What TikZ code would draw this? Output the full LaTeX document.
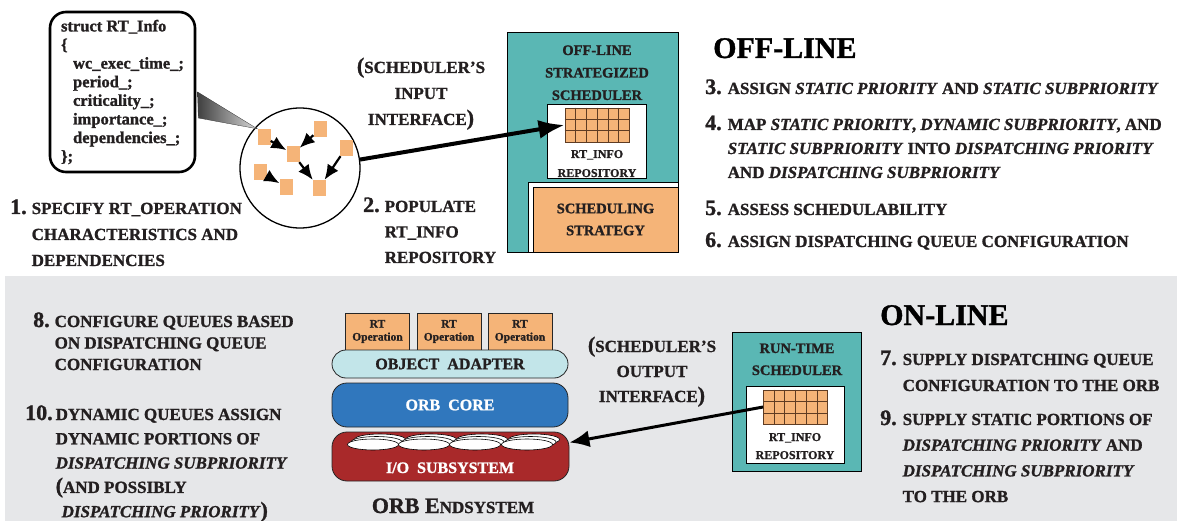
\documentclass[tikz,border=0pt]{standalone}
\usepackage{fontspec}
\setmainfont{Liberation Serif}[BoldFont={Liberation Serif Bold}, BoldItalicFont={Liberation Serif Bold Italic},
  BoldFeatures={FakeBold=1.2}, BoldItalicFeatures={FakeBold=1.2}]
\usepackage{tikz}
\usetikzlibrary{positioning,calc,arrows.meta,shapes}

\definecolor{tealbox}{RGB}{90,183,180}
\definecolor{opfill}{RGB}{245,180,120}
\definecolor{bandgray}{RGB}{230,231,233}
\definecolor{adaptfill}{RGB}{194,229,233}
\definecolor{corefill}{RGB}{48,119,189}
\definecolor{iofill}{RGB}{169,41,42}
\definecolor{gridbrown}{RGB}{95,60,35}
\definecolor{inkgray}{RGB}{35,31,32}

\newcommand\numf{\fontsize{22}{26}\selectfont}
\newcommand\txtrows[2]{\begin{tabular}[t]{@{}#1@{}}#2\end{tabular}}

\tikzset{
  stepitem/.style={anchor=base west, inner sep=0pt, text=inkgray, font=\bfseries\fontsize{17}{#1}\selectfont},
  stepitem/.default=26,
  caplabel/.style={anchor=base, inner sep=0pt, text=inkgray, font=\bfseries\fontsize{17}{#1}\selectfont},
  caplabel/.default=26,
  boxlabel/.style={anchor=base, inner sep=0pt, text=inkgray, font=\bfseries\fontsize{14.5}{#1}\selectfont},
  boxlabel/.default=22,
  repolabel/.style={anchor=base, inner sep=0pt, text=inkgray, font=\bfseries\fontsize{12}{#1}\selectfont},
  title/.style={anchor=base west, inner sep=0pt, font=\bfseries\fontsize{30}{36}\selectfont},
  sq/.style={fill=opfill, minimum width=13pt, minimum height=16pt, inner sep=0pt},
  dep/.style={line width=2.2pt, -{Latex[length=15pt,width=13pt]}},
  gridbox/.style={draw=gridbrown, fill=opfill, line width=0.8pt, minimum width=64pt, minimum height=34pt, inner sep=0pt},
  opbox/.style={draw=black!85, fill=opfill, line width=0.8pt, minimum width=64pt, minimum height=37pt, inner sep=0pt,
    align=center, text=inkgray, font=\bfseries\fontsize{11.5}{13}\selectfont},
  layer/.style={draw=black!85, line width=0.8pt, rounded corners=14pt, minimum width=236pt, inner sep=0pt,
    font=\bfseries\fontsize{16}{19}\selectfont},
  disk/.style={draw=black, fill=white, line width=0.6pt},
  bigarrow/.style={line width=4pt, -{Latex[length=26pt,width=19pt]}}
}

\begin{document}
\begin{tikzpicture}[x=1pt, y=-1pt]
\useasboundingbox (0,0) rectangle (1177,521);
% on-line band
\fill[bandgray] (5,276) rectangle (1177,521);

% step 1: operations and their dependencies
\node[draw, circle, line width=1.3pt, minimum size=120pt, inner sep=0pt] (pool) at (300,168) {};
\foreach \n/\x/\y in {s1/264/137, s2/293/154, s3/320/129, s4/346/148, s5/260/172, s6/286/187, s7/319/188}
  \node[sq] (\n) at (\x,\y) {};
\foreach \a/\b in {s1/s2, s3/s2, s2/s7, s4/s7, s5/s6}
  \draw[dep] (\a) -- (\b);

\node[draw, fill=white, line width=2.6pt, rounded corners=16pt, minimum width=145pt, minimum height=160pt,
  align=left, text=inkgray, font=\bfseries\fontsize{16.5}{18.6}\selectfont] (info) at (122.5,92)
  {struct RT\_Info\\\{\\\hspace*{12pt}wc\_exec\_time\_;\\\hspace*{12pt}period\_;\\\hspace*{12pt}criticality\_;\\
   \hspace*{12pt}importance\_;\\\hspace*{12pt}dependencies\_;\\\};};
\shade[left color=black!75, right color=black!15, draw=black!80, line width=0.3pt]
  ($(info.east)+(1.3,0)$) -- (s1.north west) -- ($(info.east)+(2,26)$) -- cycle;

\node[stepitem] (step1) at (10,214) {\txtrows{r@{\hspace{5pt}}l}{{\numf 1.} & SPECIFY RT\_OPERATION\\ & CHARACTERISTICS AND\\ & DEPENDENCIES}};
\node[stepitem=25.5] (step2) at (363,212) {\txtrows{r@{\hspace{5pt}}l}{{\numf 2.} & POPULATE\\ & RT\_INFO\\ & REPOSITORY}};
\node[caplabel] (inlabel) at (421,73) {\txtrows{c}{{\numf(}SCHEDULER'S\\INPUT\\INTERFACE{\numf)}}};

% off-line strategized scheduler
\node[draw, fill=tealbox, line width=0.6pt, minimum width=171pt, minimum height=220pt, inner sep=0pt] (offsched) at (592.5,142) {};
\fill[white, draw=black, line width=0.6pt] (528,182) rectangle (offsched.south east);
\node[draw, fill=opfill, line width=0.6pt, minimum width=145pt, minimum height=65pt, inner sep=0pt, align=center,
  text=inkgray, font=\bfseries\fontsize{14.5}{22}\selectfont] (strategy) at (605.5,219.5) {SCHEDULING\\STRATEGY};
\node[boxlabel=22.5] (offtitle) at (597,55) {\txtrows{c}{OFF-LINE\\STRATEGIZED\\SCHEDULER}};
\node[draw, fill=white, line width=0.6pt, minimum width=99pt, minimum height=74pt] (offrepo) at (596.5,141) {};
\node[gridbox] (offgrid) at (597,125) {};
\node[repolabel=19] (offrepolabel) at (597,158) {\txtrows{c}{RT\_INFO\\REPOSITORY}};

\node[title] (offline) at (713,58) {OFF-LINE};
\node[stepitem] (step3) at (705,94) {\txtrows{r@{\hspace{6pt}}l}{{\numf 3.} & ASSIGN \textit{STATIC PRIORITY} AND \textit{STATIC SUBPRIORITY}}};
\node[stepitem=24] (step4) at (705,130) {\txtrows{r@{\hspace{6pt}}l}{{\numf 4.} & MAP \textit{STATIC PRIORITY}, \textit{DYNAMIC SUBPRIORITY}, AND\\
  & \textit{STATIC SUBPRIORITY} INTO \textit{DISPATCHING PRIORITY}\\ & AND \textit{DISPATCHING SUBPRIORITY}}};
\node[stepitem] (step5) at (705,215) {\txtrows{r@{\hspace{6pt}}l}{{\numf 5.} & ASSESS SCHEDULABILITY}};
\node[stepitem] (step6) at (705,247) {\txtrows{r@{\hspace{6pt}}l}{{\numf 6.} & ASSIGN DISPATCHING QUEUE CONFIGURATION}};

% run-time scheduler
\node[draw, fill=tealbox, line width=0.6pt, minimum width=129pt, minimum height=139pt, inner sep=0pt] (runsched) at (796.5,401.5) {};
\node[boxlabel] (runtitle) at (797,353) {\txtrows{c}{RUN-TIME\\SCHEDULER}};
\node[draw, fill=white, line width=0.6pt, minimum width=98pt, minimum height=77pt] (runrepo) at (795,424.5) {};
\node[gridbox] (rungrid) at (795.5,407) {};
\node[repolabel=18] (runrepolabel) at (795,441) {\txtrows{c}{RT\_INFO\\REPOSITORY}};

\foreach \g in {offgrid,rungrid} {
  \foreach \i in {1,...,5}
    \draw[gridbrown, line width=0.6pt] ($(\g.north west)!{\i/6}!(\g.north east)$) -- ($(\g.south west)!{\i/6}!(\g.south east)$);
  \foreach \j in {1,2}
    \draw[gridbrown, line width=0.6pt] ($(\g.north west)!{\j/3}!(\g.south west)$) -- ($(\g.north east)!{\j/3}!(\g.south east)$);
}

% ORB endsystem
\foreach \x [count=\i] in {377.5,449,520}
  \node[opbox] (op\i) at (\x,331.5) {RT\\Operation};
\node[layer, fill=adaptfill, text=inkgray, minimum height=28pt] (adapter) at (450,364) {OBJECT\ \ ADAPTER};
\node[layer, fill=corefill, text=white, minimum height=44pt, rounded corners=15pt] (orbcore) at (450,405) {ORB\ \ CORE};
\node[layer, fill=iofill, minimum height=49pt, minimum width=237pt, rounded corners=15pt] (iosub) at (450.5,456.5) {};
\foreach \x in {373,424,475,527}
  \foreach \k in {2,1,0}
    \draw[disk] (\x+3.5*\k,444.5-2.5*\k) ellipse (25.5 and 5.5);
\node[anchor=base, inner sep=0pt, text=white, font=\bfseries\fontsize{16}{19}\selectfont] (iolabel) at (450,473) {I/O\ \ SUBSYSTEM};
\node[anchor=base, inner sep=0pt, text=inkgray, font=\bfseries\fontsize{17}{20}\selectfont] (endsys) at (453,513) {{\fontsize{22}{26}\selectfont ORB E}NDSYSTEM};
\node[caplabel=25] (outlabel) at (652,352) {\txtrows{c}{{\numf(}SCHEDULER'S\\OUTPUT\\INTERFACE{\numf)}}};

\node[stepitem=21.5] (step8) at (33,327) {\txtrows{r@{\hspace{5pt}}l}{{\numf 8.} & CONFIGURE QUEUES BASED\\ & ON DISPATCHING QUEUE\\ & CONFIGURATION}};
\node[stepitem=24.3] (step10) at (25,420) {\txtrows{r@{\hspace{3pt}}l}{{\numf 10.} & DYNAMIC QUEUES ASSIGN\\ & DYNAMIC PORTIONS OF\\
  & \textit{DISPATCHING SUBPRIORITY}\\ & {\numf(}AND POSSIBLY\\ & \hspace{6pt}\textit{DISPATCHING PRIORITY}{\numf)}}};

\node[title] (online) at (880,325) {ON-LINE};
\node[stepitem] (step7) at (880,365) {\txtrows{r@{\hspace{6pt}}l}{{\numf 7.} & SUPPLY DISPATCHING QUEUE\\ & CONFIGURATION TO THE ORB}};
\node[stepitem=25.7] (step9) at (880,425) {\txtrows{r@{\hspace{6pt}}l}{{\numf 9.} & SUPPLY STATIC PORTIONS OF\\
  & \textit{DISPATCHING PRIORITY} AND\\ & \textit{DISPATCHING SUBPRIORITY}\\ & TO THE ORB}};

% scheduler interfaces
\draw[bigarrow] (pool.8) -- (offgrid.west);
\draw[line width=3pt, -{Latex[length=20pt,width=17pt]}] (rungrid.west) -- ($(iosub.east)+(0,-14)$);
\end{tikzpicture}
\end{document}
